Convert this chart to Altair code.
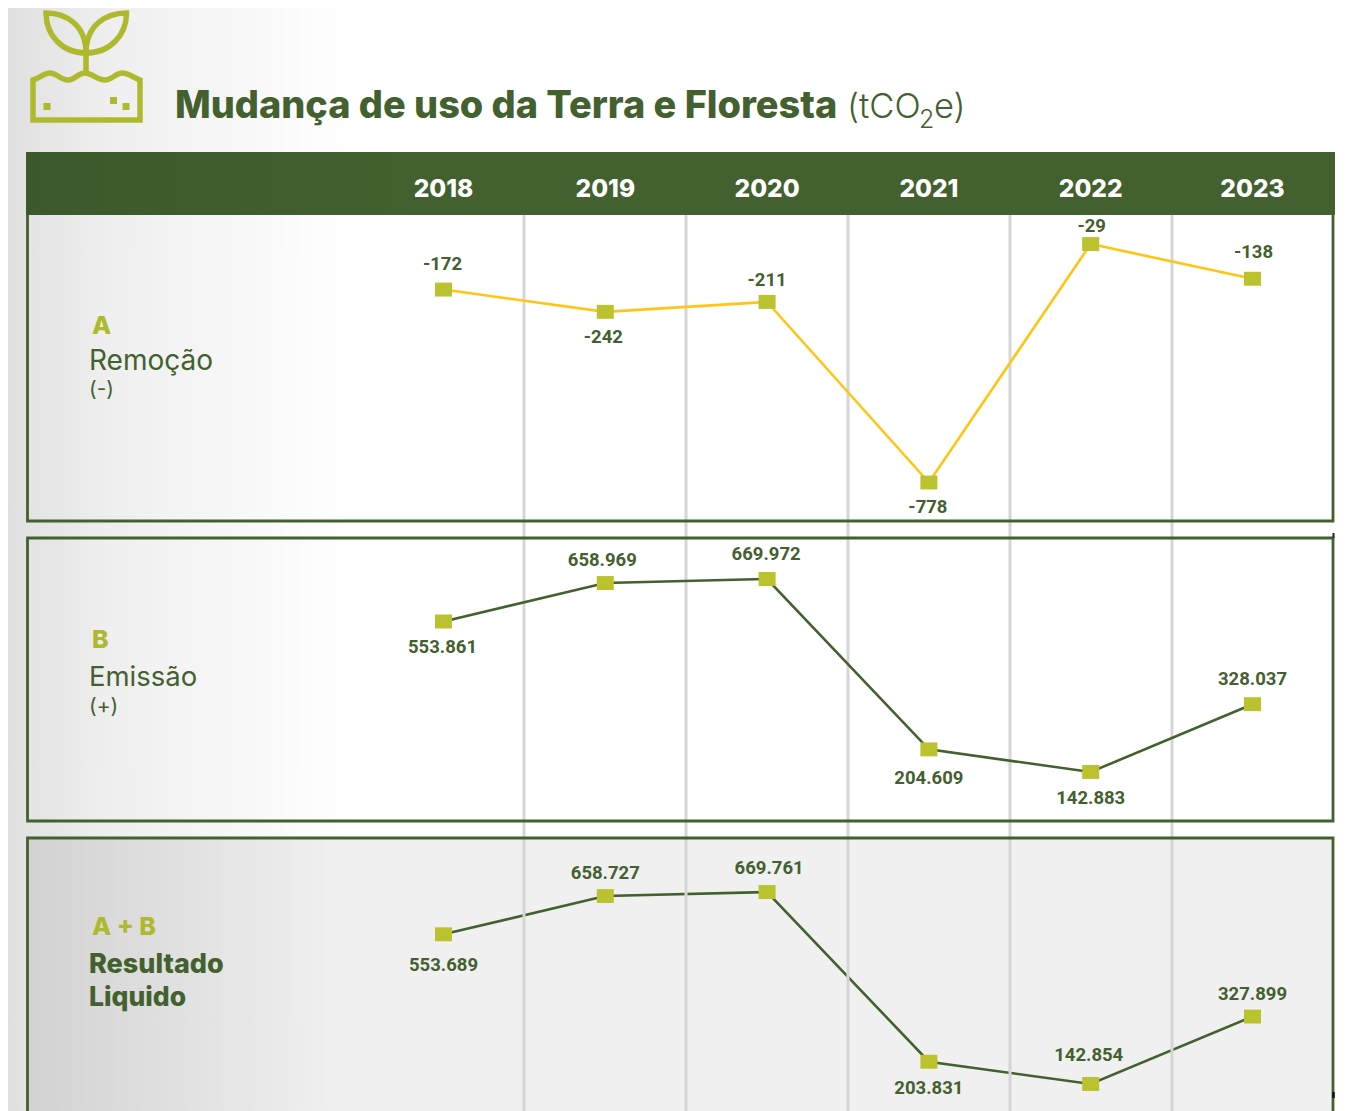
import altair as alt

YEARS = ["2018", "2019", "2020", "2021", "2022", "2023"]
REMOCAO = [-172, -242, -211, -778, -29, -138]
EMISSAO = [553861, 658969, 669972, 204609, 142883, 328037]
LIQUIDO = [553689, 658727, 669761, 203831, 142854, 327899]

GREEN = "#43602F"
LIME = "#AEB92D"
MARK = "#BAC22E"
YELLOW = "#FFC512"
GRID = "#D5D5D5"
DATA_FONT = "Roboto"
HEAD_FONT = "Inter"
ONE = alt.Data(values=[{}])
XS = alt.Scale(type="point", domain=YEARS, range=[435.5, 1244.5], padding=0)


def px(v):
    return alt.value(v - 8)


def grad(c0, c1, mid=None):
    stops = [alt.GradientStop(color=c0, offset=0)]
    if mid:
        stops.append(alt.GradientStop(color=mid[0], offset=mid[1]))
    stops.append(alt.GradientStop(color=c1, offset=1))
    return alt.LinearGradient(gradient="linear", stops=stops, x1=0, x2=1, y1=0, y2=0)


def box(x0, x1, y0, y1, **kw):
    return alt.Chart(ONE).mark_rect(**kw).encode(x=px(x0), x2=px(x1), y=px(y0), y2=px(y1))


def vline(x, y0, y1, color, w):
    return alt.Chart(ONE).mark_rule(color=color, strokeWidth=w).encode(x=px(x), y=px(y0), y2=px(y1))


def label(s, x, y, size, color=GREEN, weight=400, font=HEAD_FONT, **kw):
    return alt.Chart(ONE).mark_text(
        text=s, fontSize=size, color=color, fontWeight=weight, font=font,
        align="left", baseline="alphabetic", **kw
    ).encode(x=px(x), y=px(y))


def icon(path, **kw):
    return alt.Chart(ONE).mark_point(shape=path, size=4, opacity=1, **kw).encode(x=alt.value(-8), y=alt.value(-8))


def series(values, yr):
    df = alt.Data(values=[
        {"year": y, "v": v, "label": f"{v:,}".replace(",", ".")} for y, v in zip(YEARS, values)
    ])
    x = alt.X("year:N", scale=XS, axis=None)
    ys = alt.Scale(domain=yr[0], range=yr[1], nice=False, zero=False)
    y = alt.Y("v:Q", scale=ys, axis=None)
    return df, x, y


def line(values, yr, color):
    df, x, y = series(values, yr)
    return alt.Chart(df).mark_line(color=color, strokeWidth=2.6).encode(x=x, y=y)


def points(values, yr):
    df, x, y = series(values, yr)
    return alt.Chart(df).mark_point(
        shape="M-1,-0.82H1V0.82H-1Z", size=289, filled=True, color=MARK, opacity=1, strokeWidth=0
    ).encode(x=x, y=y)


def texts(values, yr, offsets):
    out = []
    for i, (dx, dy) in enumerate(offsets):
        df, x, y = series([values[i]], yr)
        df = alt.Data(values=[{"year": YEARS[i], "v": values[i], "label": f"{values[i]:,}".replace(",", ".")}])
        out.append(
            alt.Chart(df).mark_text(
                font=DATA_FONT, fontWeight=700, fontSize=18.5, color=GREEN, dx=dx, dy=dy, baseline="middle"
            ).encode(x=x, y=y, text="label:N")
        )
    return out


YA = ([-800, 0], [481.5, 226.8])
YB = ([0, 700000], [816.3, 560])
YC = ([0, 700000], [1128, 873])

layers = []
layers.append(box(8, 352, 0, 1111, fill=grad("#E0E0E0", "#FFFFFF", ("#EFEFEF", 0.3))))
layers.append(box(27, 1333, 838, 1120, fill="#F0F0F0"))
layers.append(box(27, 340, 838, 1120, fill=grad("#D2D2D2", "#F0F0F0")))
layers.append(line(LIQUIDO, YC, GREEN))
for gx in [524, 686, 848, 1010, 1172]:
    layers.append(vline(gx, 215, 1120, GRID, 3))
frame = dict(fill="transparent", stroke=GREEN, strokeWidth=2.8)
layers.append(box(27.5, 1333, 205, 521, **frame))
layers.append(box(27.5, 1333, 538, 821, **frame))
layers.append(box(27.5, 1333, 838, 1125, **frame))
layers.append(box(26, 1335, 152, 215, fill=grad("#3C592B", GREEN, (GREEN, 0.3))))
layers.append(vline(1333.5, 533, 538, "#222222", 2))
layers.append(vline(1333.5, 1092, 1098, "#111111", 2.5))

yrs = alt.Data(values=[{"year": y} for y in YEARS])
layers.append(
    alt.Chart(yrs).mark_text(font=HEAD_FONT, fontWeight=800, fontSize=24.5, color="#FFFFFF", baseline="alphabetic")
    .encode(x=alt.X("year:N", scale=XS, axis=None), y=px(197), text="year:N")
)

# icon
ic = dict(filled=False, stroke=LIME, strokeWidth=5.5, fill="transparent")
layers.append(icon(
    "M33,120V80C40,78 44,73 50,73C57,73 60,80 68,80C75,80 78,73 85,73C92,73 97,80 105,80"
    "C112,80 116,73 122,73C129,73 134,78 140,80V120Z", **ic))
layers.append(icon("M86,74V38", **ic))
layers.append(icon("M46,13C66,13 86,25 86,53C62,53 46,35 46,13Z", **ic))
layers.append(icon("M126.5,13C106,13 86,25 86,53C110,53 126.5,35 126.5,13Z", **ic))
layers.append(icon("M43.5,103H50.5V110H43.5ZM110,97H117V104H110ZM122.5,103H129.5V110H122.5Z",
                   filled=True, color=LIME, strokeWidth=0))

# title
layers.append(label("Mudança de uso da Terra e Floresta", 175, 118, 37.9, weight=800))
layers.append(label("(tCO", 847, 118, 34.5, weight=300))
layers.append(label("2", 919, 128, 25, weight=300))
layers.append(label("e)", 934, 118, 34.5, weight=300))

# row labels
layers.append(label("A", 92, 334, 25, color=LIME, weight=800))
layers.append(label("Remoção", 89, 370, 28))
layers.append(label("(-)", 89, 396, 21))
layers.append(label("B", 92, 648, 25, color=LIME, weight=800))
layers.append(label("Emissão", 89, 686, 27.5))
layers.append(label("(+)", 89, 713, 21))
layers.append(label("A + B", 92, 935, 25, color=LIME, weight=800))
layers.append(label("Resultado", 89, 973, 27, weight=800))
layers.append(label("Liquido", 89, 1006, 26.5, weight=800))

# series
layers += [line(REMOCAO, YA, YELLOW), line(EMISSAO, YB, GREEN)]
layers += [points(REMOCAO, YA), points(EMISSAO, YB), points(LIQUIDO, YC)]
layers += texts(REMOCAO, YA, [(-1, -26), (-2, 25), (0, -22), (-1, 24.5), (1, -18), (1, -27)])
layers += texts(EMISSAO, YB, [(-1, 25.5), (-3, -23), (-1, -25), (0, 29), (0, 26), (0, -25)])
layers += texts(LIQUIDO, YC, [(0, 31), (0, -23), (2, -24), (0, 26), (-2, -29), (0, -23)])

chart = (
    alt.layer(*layers)
    .resolve_scale(y="independent")
    .properties(width=1340, height=1103, padding=0, autosize=alt.AutoSizeParams(type="none"), background="#FFFFFF")
    .configure_view(stroke=None)
)
chart.save("out.html", embed_options={"renderer": "svg", "actions": False})
